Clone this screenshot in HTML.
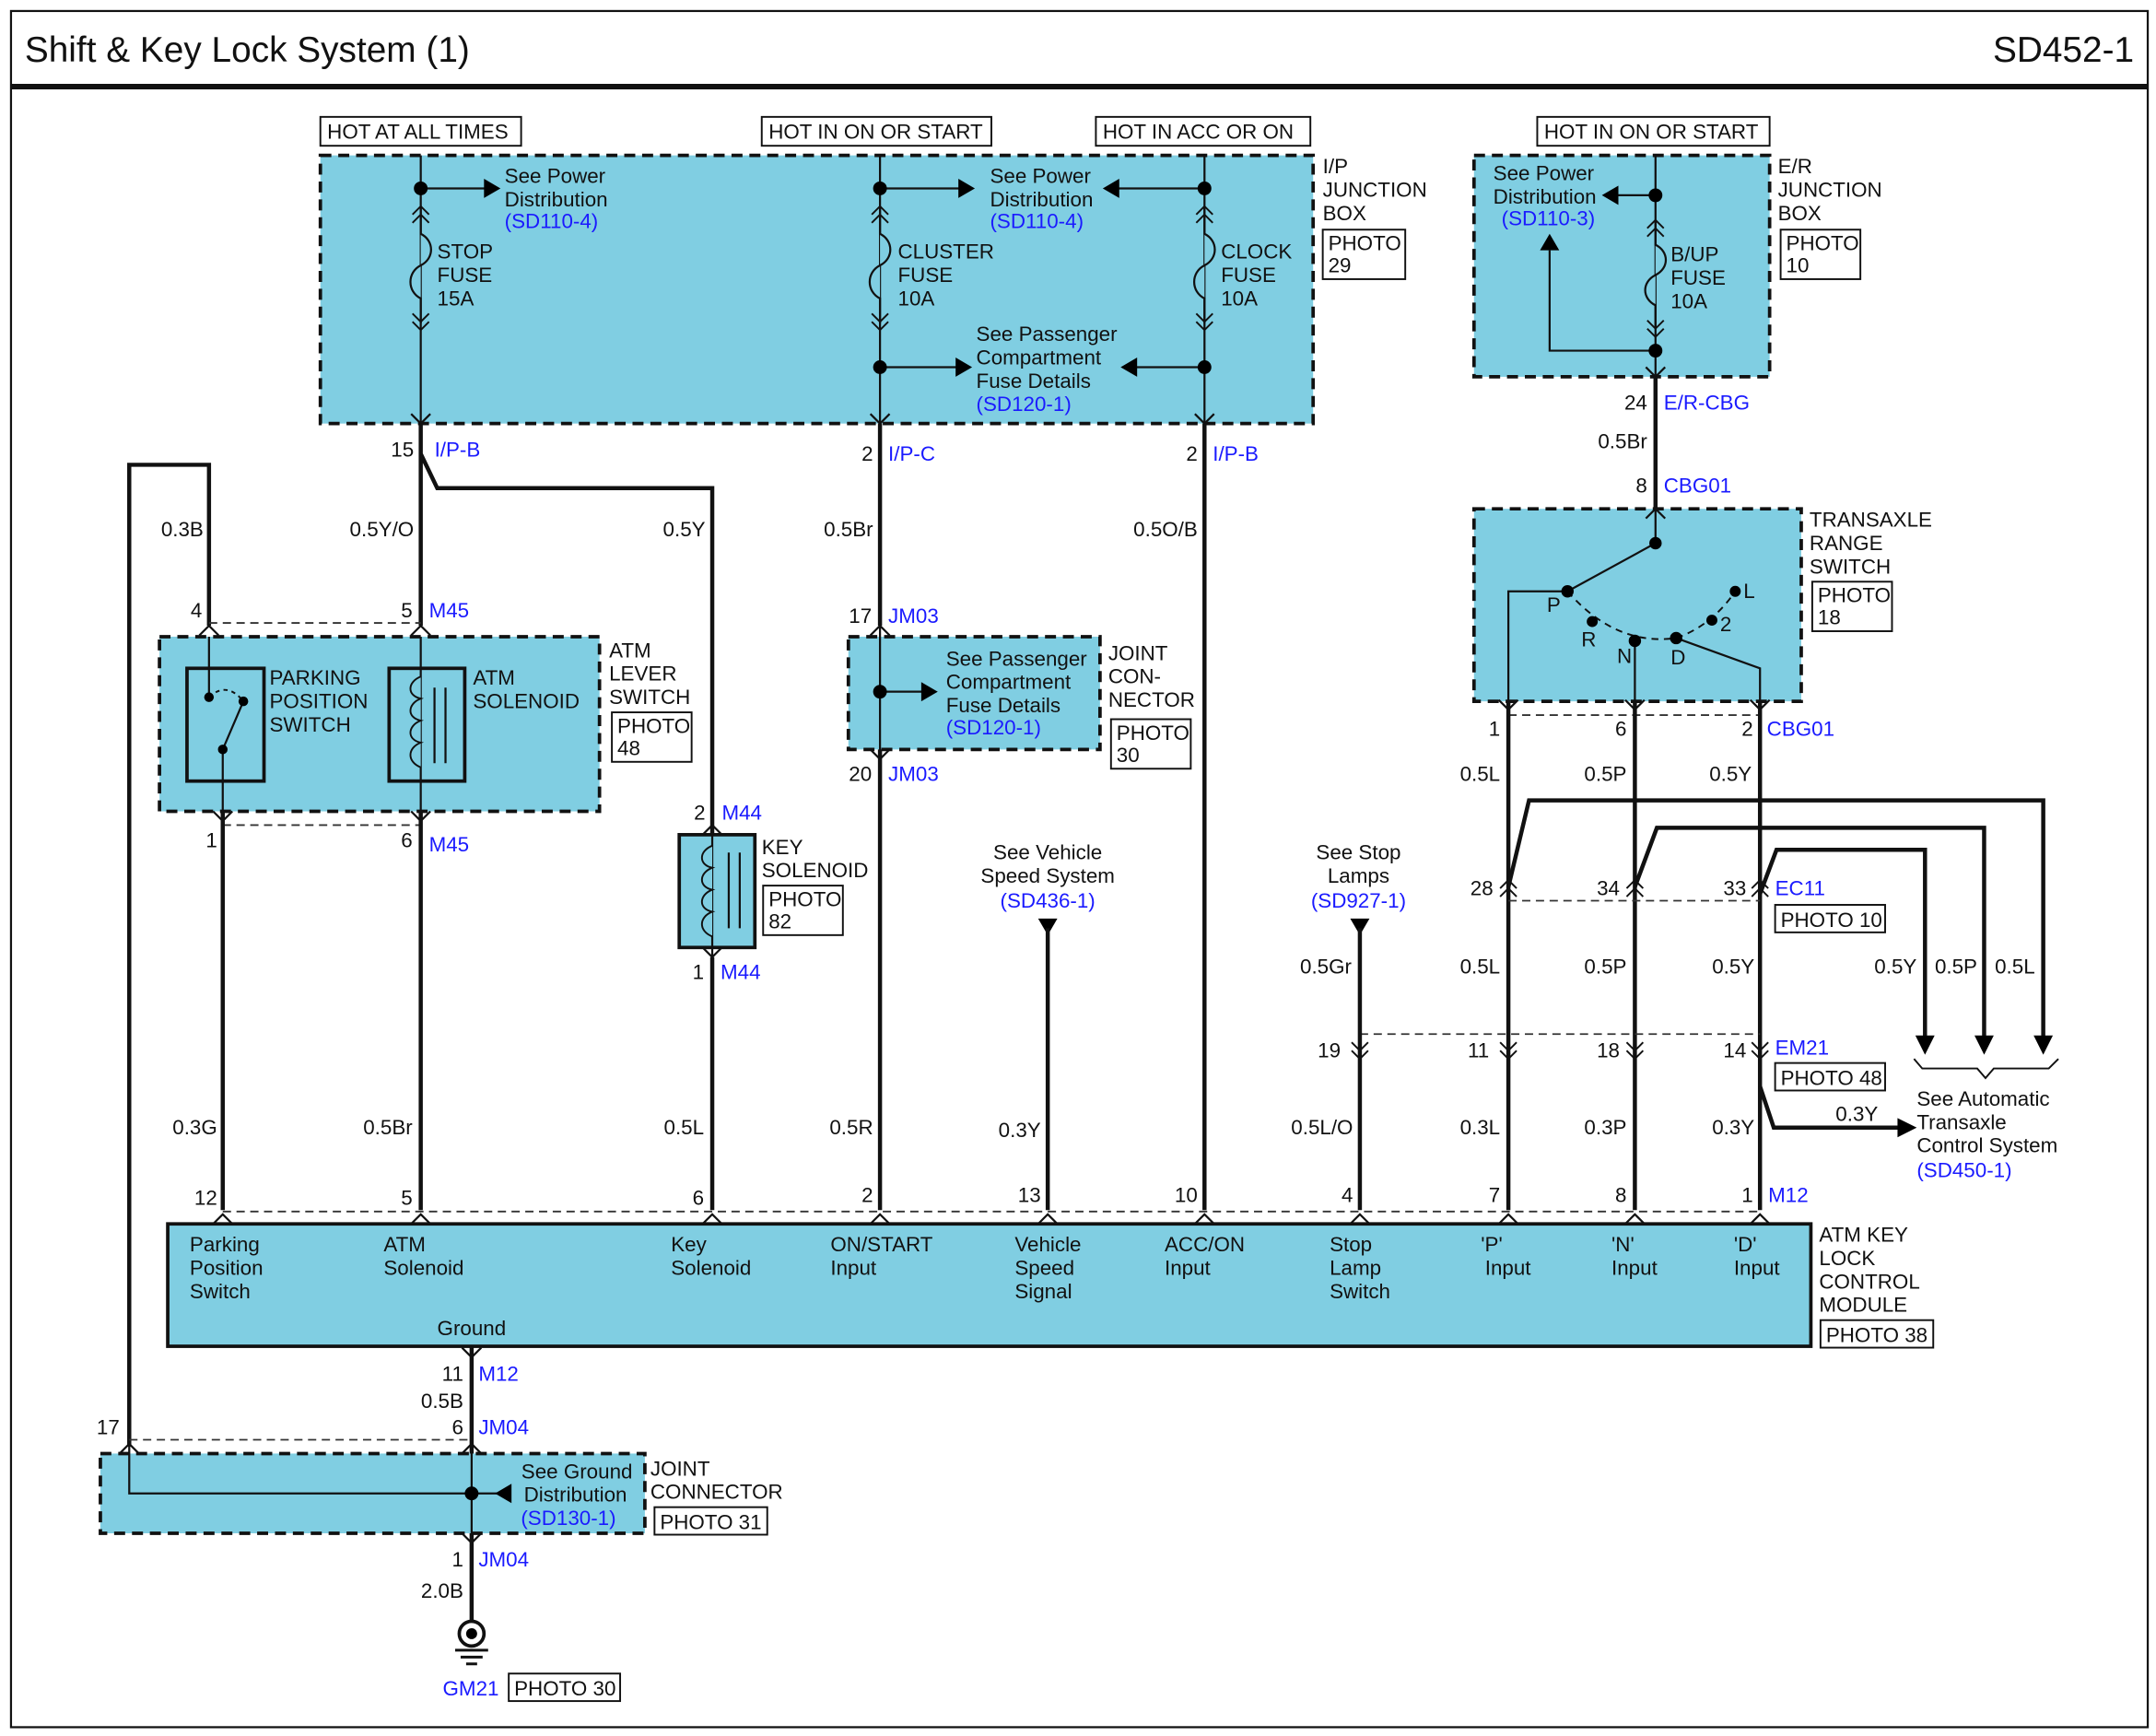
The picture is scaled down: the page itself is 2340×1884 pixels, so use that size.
<!DOCTYPE html>
<html><head><meta charset="utf-8"><style>
html,body{margin:0;padding:0;background:#fff}
svg{display:block}
text{font-family:"Liberation Sans",Arial,sans-serif;font-size:15px;fill:#111}
.b{fill:#1a1aff}
.e{text-anchor:end}
.m{text-anchor:middle}
.box{fill:#80cee2;stroke:#111;stroke-width:2.5;stroke-dasharray:8 5}
.th{stroke:#111;stroke-width:3;fill:none}
.tn{stroke:#111;stroke-width:1.5;fill:none}
.dl{stroke:#333;stroke-width:1.2;stroke-dasharray:6 4;fill:none}
.pb{fill:#fff;stroke:#111;stroke-width:1.3}
</style></head><body>
<svg width="2340" height="1884" viewBox="0 0 1568 1262.4" preserveAspectRatio="none" xmlns="http://www.w3.org/2000/svg">
<defs>
<path id="u" d="M-7,7 L0,0 L7,7" fill="none" stroke="#111" stroke-width="1.5"/>
<path id="d" d="M-7,-7 L0,0 L7,-7" fill="none" stroke="#111" stroke-width="1.5"/>
<path id="uu" d="M-6,6 L0,0 L6,6 M-6,12 L0,6 L6,12" fill="none" stroke="#111" stroke-width="1.3"/>
<path id="dd" d="M-6,-6 L0,0 L6,-6 M-6,-12 L0,-6 L6,-12" fill="none" stroke="#111" stroke-width="1.3"/>
</defs>
<rect x="8" y="8" width="1554" height="1248" fill="none" stroke="#111" stroke-width="1.5"/>
<text x="18" y="45" style="font-size:26px">Shift &amp; Key Lock System (1)</text>
<text x="1552" y="45" class="e" style="font-size:26px">SD452-1</text>
<line x1="8" y1="63" x2="1562" y2="63" stroke="#111" stroke-width="4"/>

<!-- HOT labels -->
<rect x="233" y="85" width="146" height="21" class="pb"/><text x="238" y="101">HOT AT ALL TIMES</text>
<rect x="554" y="85" width="167" height="21" class="pb"/><text x="559" y="101">HOT IN ON OR START</text>
<rect x="797" y="85" width="156" height="21" class="pb"/><text x="802" y="101">HOT IN  ACC OR ON</text>
<rect x="1118" y="85" width="169" height="21" class="pb"/><text x="1123" y="101">HOT IN ON OR START</text>

<!-- IP junction box -->
<rect x="233" y="113" width="722" height="195" class="box"/>
<text x="962" y="126">I/P</text><text x="962" y="143">JUNCTION</text><text x="962" y="160">BOX</text>
<rect x="962" y="167" width="60" height="36" class="pb"/><text x="966" y="182">PHOTO</text><text x="966" y="198">29</text>
<!-- x=306 -->
<path class="tn" d="M306,113 V308 M306,137 H355"/>
<path d="M352,130 L364,137 L352,144Z"/>
<circle cx="306" cy="137" r="5"/>
<path d="M306,150 V170 C316,175 316,188 306,193 C296,198 296,212 306,217 V235" fill="#80cee2" stroke="#111" stroke-width="1.5"/>
<use href="#uu" x="306" y="150"/><use href="#dd" x="306" y="240"/><use href="#d" x="306" y="308"/>
<text x="367" y="133">See Power</text><text x="367" y="150">Distribution</text><text x="367" y="166" class="b">(SD110-4)</text>
<text x="318" y="188">STOP</text><text x="318" y="205">FUSE</text><text x="318" y="222">15A</text>
<!-- x=640 -->
<path class="tn" d="M640,113 V308 M640,137 H700 M640,267 H698"/>
<path d="M697,130 L709,137 L697,144Z M695,260 L707,267 L695,274Z"/>
<circle cx="640" cy="137" r="5"/><circle cx="640" cy="267" r="5"/>
<path d="M640,150 V170 C650,175 650,188 640,193 C630,198 630,212 640,217 V235" fill="#80cee2" stroke="#111" stroke-width="1.5"/>
<use href="#uu" x="640" y="150"/><use href="#dd" x="640" y="240"/><use href="#d" x="640" y="308"/>
<text x="653" y="188">CLUSTER</text><text x="653" y="205">FUSE</text><text x="653" y="222">10A</text>
<text x="720" y="133">See Power</text><text x="720" y="150">Distribution</text><text x="720" y="166" class="b">(SD110-4)</text>
<text x="710" y="248">See Passenger</text><text x="710" y="265">Compartment</text><text x="710" y="282">Fuse Details</text><text x="710" y="299" class="b">(SD120-1)</text>
<!-- x=876 -->
<path class="tn" d="M876,113 V308 M876,137 H812 M876,267 H825"/>
<path d="M814,130 L802,137 L814,144Z M827,260 L815,267 L827,274Z"/>
<circle cx="876" cy="137" r="5"/><circle cx="876" cy="267" r="5"/>
<path d="M876,150 V170 C886,175 886,188 876,193 C866,198 866,212 876,217 V235" fill="#80cee2" stroke="#111" stroke-width="1.5"/>
<use href="#uu" x="876" y="150"/><use href="#dd" x="876" y="240"/><use href="#d" x="876" y="308"/>
<text x="888" y="188">CLOCK</text><text x="888" y="205">FUSE</text><text x="888" y="222">10A</text>

<!-- ER junction box -->
<rect x="1072" y="113" width="215" height="161" class="box"/>
<text x="1293" y="126">E/R</text><text x="1293" y="143">JUNCTION</text><text x="1293" y="160">BOX</text>
<rect x="1295" y="167" width="58" height="36" class="pb"/><text x="1299" y="182">PHOTO</text><text x="1299" y="198">10</text>
<path class="tn" d="M1204,113 V274 M1204,142 H1175 M1204,255 H1127 V182"/>
<path d="M1177,135 L1165,142 L1177,149Z M1120,182 L1127,170 L1134,182Z"/>
<circle cx="1204" cy="142" r="5"/><circle cx="1204" cy="255" r="5"/>
<path d="M1204,160 V178 C1214,183 1214,195 1204,200 C1194,205 1194,217 1204,222 V238" fill="#80cee2" stroke="#111" stroke-width="1.5"/>
<use href="#uu" x="1204" y="160"/><use href="#dd" x="1204" y="245"/><use href="#d" x="1204" y="274"/>
<text x="1086" y="131">See Power</text><text x="1086" y="148">Distribution</text><text x="1092" y="164" class="b">(SD110-3)</text>
<text x="1215" y="190">B/UP</text><text x="1215" y="207">FUSE</text><text x="1215" y="224">10A</text>
<path class="th" d="M1204,274 V370"/>
<text x="1198" y="298" class="e">24</text><text x="1210" y="298" class="b">E/R-CBG</text>
<text x="1198" y="326" class="e">0.5Br</text>
<text x="1198" y="358" class="e">8</text><text x="1210" y="358" class="b">CBG01</text>

<!-- Transaxle range switch -->
<rect x="1072" y="370" width="238" height="140" class="box"/>
<use href="#u" x="1204" y="370"/>
<text x="1316" y="383">TRANSAXLE</text><text x="1316" y="400">RANGE</text><text x="1316" y="417">SWITCH</text>
<rect x="1318" y="423" width="58" height="36" class="pb"/><text x="1322" y="438">PHOTO</text><text x="1322" y="454">18</text>
<path class="tn" d="M1204,370 V395 L1140,430 M1140,430 H1097 V510 M1189,466 V510 M1219,464 L1280,486 V510"/>
<path d="M1140,430 Q1175,470 1219,464 Q1245,455 1262,430" fill="none" stroke="#111" stroke-width="1.3" stroke-dasharray="5 4"/>
<circle cx="1204" cy="395" r="4.5"/><circle cx="1140" cy="430" r="4.5"/><circle cx="1158" cy="452" r="4"/><circle cx="1189" cy="466" r="4.5"/><circle cx="1219" cy="464" r="4.5"/><circle cx="1245" cy="451" r="4"/><circle cx="1262" cy="430" r="4"/>
<text x="1125" y="445">P</text><text x="1150" y="470">R</text><text x="1176" y="482">N</text><text x="1215" y="483">D</text><text x="1251" y="459">2</text><text x="1268" y="435">L</text>
<use href="#d" x="1097" y="516"/><use href="#d" x="1189" y="516"/><use href="#d" x="1280" y="516"/>
<path class="dl" d="M1097,520 H1280"/>
<text x="1091" y="535" class="e">1</text><text x="1183" y="535" class="e">6</text><text x="1275" y="535" class="e">2</text><text x="1285" y="535" class="b">CBG01</text>
<path class="th" d="M1097,510 V880 M1189,510 V880 M1280,510 V880"/>
<text x="1091" y="568" class="e">0.5L</text><text x="1183" y="568" class="e">0.5P</text><text x="1274" y="568" class="e">0.5Y</text>
<!-- branches -->
<path class="th" d="M1097,645 L1112,582 H1486 V755 M1189,645 L1205,602 H1443 V755 M1280,650 L1292,618 H1400 V755"/>
<path d="M1479,753 L1486,767 L1493,753Z M1436,753 L1443,767 L1450,753Z M1393,753 L1400,767 L1407,753Z"/>
<text x="1394" y="708" class="e">0.5Y</text><text x="1438" y="708" class="e">0.5P</text><text x="1480" y="708" class="e">0.5L</text>
<path d="M1392,770 L1398,777 H1438 L1444,784 L1450,777 H1490 L1497,770" fill="none" stroke="#111" stroke-width="1.3"/>
<use href="#uu" x="1097" y="640"/><use href="#uu" x="1189" y="640"/><use href="#uu" x="1280" y="640"/>
<path class="dl" d="M1097,655 H1280"/>
<text x="1086" y="651" class="e">28</text><text x="1178" y="651" class="e">34</text><text x="1270" y="651" class="e">33</text><text x="1291" y="651" class="b">EC11</text>
<rect x="1291" y="658" width="80" height="20" class="pb"/><text x="1295" y="674">PHOTO 10</text>
<text x="1091" y="708" class="e">0.5L</text><text x="1183" y="708" class="e">0.5P</text><text x="1276" y="708" class="e">0.5Y</text>
<use href="#dd" x="989" y="770"/><use href="#dd" x="1097" y="770"/><use href="#dd" x="1189" y="770"/><use href="#dd" x="1280" y="770"/>
<path class="dl" d="M989,752 H1280"/>
<text x="975" y="769" class="e">19</text><text x="1083" y="769" class="e">11</text><text x="1178" y="769" class="e">18</text><text x="1270" y="769" class="e">14</text><text x="1291" y="767" class="b">EM21</text>
<rect x="1291" y="773" width="80" height="20" class="pb"/><text x="1295" y="789">PHOTO 48</text>
<path class="th" d="M1280,790 L1290,820 H1382"/>
<path d="M1380,813 L1394,820 L1380,827Z"/>
<text x="1335" y="815">0.3Y</text>
<text x="1394" y="804">See Automatic</text><text x="1394" y="821">Transaxle</text><text x="1394" y="838">Control System</text><text x="1394" y="856" class="b">(SD450-1)</text>

<!-- left side wires -->
<path class="th" d="M306,308 V330 L318,355 H518 V607 M306,330 V455 M640,308 V455 M876,308 V880 M94,1052 V338 H152 V455"/>
<text x="301" y="332" class="e">15</text><text x="316" y="332" class="b">I/P-B</text>
<text x="635" y="335" class="e">2</text><text x="646" y="335" class="b">I/P-C</text>
<text x="871" y="335" class="e">2</text><text x="882" y="335" class="b">I/P-B</text>
<text x="148" y="390" class="e">0.3B</text><text x="301" y="390" class="e">0.5Y/O</text><text x="513" y="390" class="e">0.5Y</text><text x="635" y="390" class="e">0.5Br</text><text x="871" y="390" class="e">0.5O/B</text>
<text x="147" y="449" class="e">4</text><text x="300" y="449" class="e">5</text><text x="312" y="449" class="b">M45</text>
<text x="634" y="453" class="e">17</text><text x="646" y="453" class="b">JM03</text>

<!-- ATM lever switch -->
<rect x="116" y="463" width="320" height="127" class="box"/>
<path class="dl" d="M152,453 H306 M162,600 H306"/>
<use href="#u" x="152" y="455"/><use href="#u" x="306" y="455"/>
<text x="443" y="478">ATM</text><text x="443" y="495">LEVER</text><text x="443" y="512">SWITCH</text>
<rect x="445" y="518" width="58" height="36" class="pb"/><text x="449" y="533">PHOTO</text><text x="449" y="549">48</text>
<rect x="136" y="486" width="56" height="82" fill="none" stroke="#111" stroke-width="2.5"/>
<path class="tn" d="M152,463 V486 M152,486 V507 M162,568 V590 M162,568 V545 L177,510"/>
<path d="M152,507 Q165,495 177,510" fill="none" stroke="#111" stroke-width="1.3" stroke-dasharray="3 3"/>
<circle cx="152" cy="507" r="3.5"/><circle cx="177" cy="510" r="3.5"/><circle cx="162" cy="545" r="3.5"/>
<text x="196" y="498">PARKING</text><text x="196" y="515">POSITION</text><text x="196" y="532">SWITCH</text>
<rect x="283" y="486" width="55" height="82" fill="none" stroke="#111" stroke-width="2.5"/>
<path class="tn" d="M306,463 V590"/>
<path d="M306,492 C296,496 296,506 306,508 C296,512 296,522 306,524 C296,528 296,538 306,540 C296,544 296,554 306,558" fill="#80cee2" stroke="#111" stroke-width="1.3"/>
<path d="M316,500 V555 M324,500 V555" stroke="#111" stroke-width="1.5"/>
<text x="344" y="498">ATM</text><text x="344" y="515">SOLENOID</text>
<use href="#d" x="162" y="597"/><use href="#d" x="306" y="597"/>
<text x="158" y="616" class="e">1</text><text x="300" y="616" class="e">6</text><text x="312" y="619" class="b">M45</text>
<path class="th" d="M162,590 V880 M306,590 V880"/>

<!-- key solenoid -->
<rect x="494" y="607" width="55" height="82" fill="#80cee2" stroke="#111" stroke-width="2.5"/>
<use href="#u" x="518" y="600"/>
<text x="513" y="596" class="e">2</text><text x="525" y="596" class="b">M44</text>
<path class="tn" d="M518,600 V696"/>
<path d="M518,615 C508,619 508,629 518,631 C508,635 508,645 518,647 C508,651 508,661 518,663 C508,667 508,677 518,681" fill="#80cee2" stroke="#111" stroke-width="1.3"/>
<path d="M530,620 V675 M538,620 V675" stroke="#111" stroke-width="1.5"/>
<text x="554" y="621">KEY</text><text x="554" y="638">SOLENOID</text>
<rect x="555" y="644" width="58" height="36" class="pb"/><text x="559" y="659">PHOTO</text><text x="559" y="675">82</text>
<use href="#d" x="518" y="696"/>
<text x="512" y="712" class="e">1</text><text x="524" y="712" class="b">M44</text>
<path class="th" d="M518,696 V880"/>

<!-- JM03 -->
<rect x="617" y="463" width="183" height="82" class="box"/>
<use href="#u" x="640" y="455"/>
<path class="tn" d="M640,455 V552 M640,503 H672"/>
<circle cx="640" cy="503" r="5"/>
<path d="M670,496 L682,503 L670,510Z"/>
<text x="688" y="484">See Passenger</text><text x="688" y="501">Compartment</text><text x="688" y="518">Fuse Details</text><text x="688" y="534" class="b">(SD120-1)</text>
<text x="806" y="480">JOINT</text><text x="806" y="497">CON-</text><text x="806" y="514">NECTOR</text>
<rect x="808" y="523" width="58" height="36" class="pb"/><text x="812" y="538">PHOTO</text><text x="812" y="554">30</text>
<use href="#d" x="640" y="552"/>
<text x="634" y="568" class="e">20</text><text x="646" y="568" class="b">JM03</text>
<path class="th" d="M640,545 V880"/>

<!-- vehicle speed / stop -->
<text x="762" y="625" class="m">See Vehicle</text><text x="762" y="642" class="m">Speed System</text><text x="762" y="660" class="m b">(SD436-1)</text>
<path d="M755,668 L769,668 L762,680Z"/>
<path class="th" d="M762,675 V880"/>
<text x="988" y="625" class="m">See Stop</text><text x="988" y="642" class="m">Lamps</text><text x="988" y="660" class="m b">(SD927-1)</text>
<path d="M982,668 L996,668 L989,680Z"/>
<path class="th" d="M989,675 V880"/>
<text x="983" y="708" class="e">0.5Gr</text>

<!-- wire labels -->
<text x="158" y="825" class="e">0.3G</text><text x="300" y="825" class="e">0.5Br</text><text x="512" y="825" class="e">0.5L</text><text x="635" y="825" class="e">0.5R</text><text x="757" y="827" class="e">0.3Y</text><text x="984" y="825" class="e">0.5L/O</text><text x="1091" y="825" class="e">0.3L</text><text x="1183" y="825" class="e">0.3P</text><text x="1276" y="825" class="e">0.3Y</text>
<text x="158" y="876" class="e">12</text><text x="300" y="876" class="e">5</text><text x="512" y="876" class="e">6</text><text x="635" y="874" class="e">2</text><text x="757" y="874" class="e">13</text><text x="871" y="874" class="e">10</text><text x="984" y="874" class="e">4</text><text x="1091" y="874" class="e">7</text><text x="1183" y="874" class="e">8</text><text x="1275" y="874" class="e">1</text><text x="1286" y="874" class="b">M12</text>

<!-- module -->
<path class="dl" d="M162,881 H1280"/>
<rect x="122" y="890" width="1195" height="89" fill="#80cee2" stroke="#111" stroke-width="2.5"/>
<use href="#u" x="162" y="883"/><use href="#u" x="306" y="883"/><use href="#u" x="518" y="883"/><use href="#u" x="640" y="883"/><use href="#u" x="762" y="883"/><use href="#u" x="876" y="883"/><use href="#u" x="989" y="883"/><use href="#u" x="1097" y="883"/><use href="#u" x="1189" y="883"/><use href="#u" x="1280" y="883"/>
<text x="138" y="910">Parking</text><text x="138" y="927">Position</text><text x="138" y="944">Switch</text>
<text x="279" y="910">ATM</text><text x="279" y="927">Solenoid</text>
<text x="488" y="910">Key</text><text x="488" y="927">Solenoid</text>
<text x="604" y="910">ON/START</text><text x="604" y="927">Input</text>
<text x="738" y="910">Vehicle</text><text x="738" y="927">Speed</text><text x="738" y="944">Signal</text>
<text x="847" y="910">ACC/ON</text><text x="847" y="927">Input</text>
<text x="967" y="910">Stop</text><text x="967" y="927">Lamp</text><text x="967" y="944">Switch</text>
<text x="1077" y="910">'P'</text><text x="1080" y="927">Input</text>
<text x="1172" y="910">'N'</text><text x="1172" y="927">Input</text>
<text x="1261" y="910">'D'</text><text x="1261" y="927">Input</text>
<text x="343" y="971" class="m">Ground</text>
<text x="1323" y="903">ATM KEY</text><text x="1323" y="920">LOCK</text><text x="1323" y="937">CONTROL</text><text x="1323" y="954">MODULE</text>
<rect x="1324" y="960" width="82" height="20" class="pb"/><text x="1328" y="976">PHOTO 38</text>

<!-- ground -->
<use href="#d" x="343" y="987"/>
<path class="th" d="M343,979 V1057"/>
<text x="337" y="1004" class="e">11</text><text x="348" y="1004" class="b">M12</text>
<text x="337" y="1024" class="e">0.5B</text>
<text x="337" y="1043" class="e">6</text><text x="348" y="1043" class="b">JM04</text>
<text x="87" y="1043" class="e">17</text>
<path class="dl" d="M94,1047 H343"/>
<rect x="73" y="1057" width="396" height="58" class="box"/>
<use href="#u" x="94" y="1050"/><use href="#u" x="343" y="1050"/>
<path class="tn" d="M343,1050 V1122 M343,1086 H94 V1050 M343,1086 H365"/>
<circle cx="343" cy="1086" r="5"/>
<path d="M372,1079 L360,1086 L372,1093Z"/>
<text x="460" y="1075" class="e">See Ground</text><text x="456" y="1092" class="e">Distribution</text><text x="448" y="1109" class="e b">(SD130-1)</text>
<text x="473" y="1073">JOINT</text><text x="473" y="1090">CONNECTOR</text>
<rect x="476" y="1096" width="82" height="20" class="pb"/><text x="480" y="1112">PHOTO 31</text>
<use href="#d" x="343" y="1122"/>
<text x="337" y="1139" class="e">1</text><text x="348" y="1139" class="b">JM04</text>
<text x="337" y="1162" class="e">2.0B</text>
<path class="th" d="M343,1115 V1180"/>
<circle cx="343" cy="1188" r="9" fill="none" stroke="#111" stroke-width="2.5"/>
<circle cx="343" cy="1188" r="4"/>
<path d="M331,1200 H355 M335,1205 H351 M339,1210 H347" stroke="#111" stroke-width="2"/>
<text x="322" y="1233" class="b">GM21</text>
<rect x="370" y="1217" width="81" height="20" class="pb"/><text x="374" y="1233">PHOTO 30</text>
</svg>
</body></html>
